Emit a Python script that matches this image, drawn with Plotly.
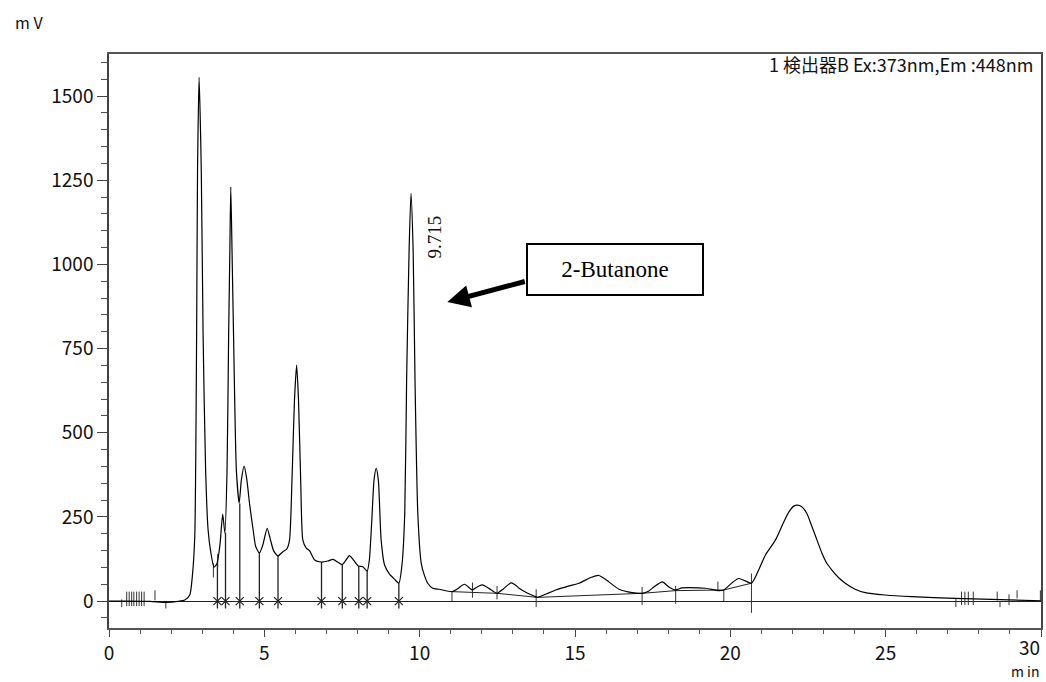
import plotly.graph_objects as go

# ---- chromatogram trace (retention time in min, signal in mV) ----
time_min = [0.00, 0.51, 1.32, 1.85, 2.22, 2.44, 2.60, 2.68, 2.76, 2.82, 2.85, 2.90, 2.97, 3.03,
            3.11, 3.19, 3.28, 3.38, 3.47, 3.57, 3.66, 3.73, 3.80, 3.85, 3.89, 3.92, 3.96, 4.01,
            4.10, 4.19, 4.26, 4.35, 4.43, 4.53, 4.64, 4.72, 4.84, 4.95, 5.09, 5.20, 5.30, 5.44,
            5.59, 5.72, 5.81, 5.89, 5.97, 6.04, 6.10, 6.17, 6.24, 6.35, 6.46, 6.62, 6.83, 7.04,
            7.21, 7.36, 7.50, 7.63, 7.74, 7.87, 8.03, 8.17, 8.31, 8.38, 8.46, 8.53, 8.60, 8.67,
            8.76, 8.87, 9.03, 9.19, 9.33, 9.43, 9.52, 9.58, 9.66, 9.72, 9.79, 9.85, 9.94, 10.05,
            10.15, 10.26, 10.42, 10.63, 11.04, 11.21, 11.44, 11.70, 11.85, 12.02, 12.24, 12.49,
            12.69, 12.94, 13.08, 13.20, 13.46, 13.68, 13.79, 14.07, 14.38, 14.81, 15.13, 15.51,
            15.77, 15.93, 16.09, 16.42, 16.84, 17.16, 17.38, 17.54, 17.81, 18.02, 18.24, 18.44,
            18.66, 19.20, 19.63, 19.79, 20.05, 20.27, 20.48, 20.68, 20.91, 21.13, 21.45, 21.72,
            21.88, 22.04, 22.17, 22.29, 22.46, 22.62, 22.79, 22.95, 23.10, 23.27, 23.48, 23.70,
            24.00, 24.34, 24.98, 25.84, 27.23, 28.41, 30.00]
signal_mv = [0, 0, -1, -4, -1, 3, 18, 71, 190, 784, 1280, 1556, 1280, 784,
             389, 211, 143, 101, 110, 166, 258, 202, 389, 784, 1042, 1230, 1042, 784,
             389, 291, 359, 401, 365, 285, 211, 163, 143, 166, 216, 181, 149, 134,
             146, 154, 181, 359, 597, 701, 597, 359, 181, 157, 149, 122, 116, 119,
             124, 116, 108, 122, 135, 122, 104, 102, 89, 122, 241, 359, 394, 359,
             181, 107, 80, 65, 53, 107, 261, 656, 1042, 1211, 1042, 656, 261, 113,
             77, 53, 38, 35, 28, 36, 50, 33, 42, 48, 37, 23,
             36, 54, 48, 38, 24, 15, 11, 21, 33, 45, 53, 70,
             76, 68, 57, 35, 25, 23, 30, 42, 57, 42, 33, 39,
             40, 38, 31, 33, 54, 67, 60, 53, 92, 137, 181, 235,
             264, 282, 285, 281, 261, 223, 181, 142, 113, 92, 70, 53,
             36, 25, 18, 13, 8, 5, 1]

# ---- peak integration drop lines (time, lower mV, upper mV) ----
drop_t = [3.49, 3.75, 4.21, 4.84, 5.44, 6.84, 7.51, 8.04, 8.31, 9.33]
drop_lo = [-22, -22, -22, -22, -22, -22, -22, -22, -22, -22]
drop_hi = [110, 203, 290, 143, 134, 116, 108, 104, 89, 53]

# ---- other integration markers (short vertical ticks) ----
mark_t = [0.41, 0.57, 0.65, 0.73, 0.80, 0.89, 0.97, 1.05, 1.13, 1.48, 1.83,
          3.36, 3.50, 11.04, 11.70, 12.49, 13.75, 17.16, 18.24, 19.60, 19.79, 20.68,
          27.26, 27.44, 27.55, 27.66, 27.82, 28.59, 28.68, 28.97, 29.23, 29.98]
mark_lo = [-18, -15, -15, -15, -15, -15, -15, -15, -15, 2, -22,
           70, 100, 0, 10, 5, -18, -12, -8, 32, 0, -35,
           -18, -12, -12, -12, -12, 2, -18, -12, 8, 2]
mark_hi = [5, 28, 28, 28, 28, 28, 28, 28, 28, 32, 0,
           112, 140, 28, 55, 45, 35, 42, 45, 58, 33, 82,
           6, 28, 28, 28, 28, 28, 0, 20, 32, 32]

# ---- integration baseline between valleys ----
base_t = [11.04, 12.49, 13.79, 17.16, 18.24, 19.79, 20.68]
base_mv = [28, 23, 11, 23, 31, 33, 53]

y_ticks = [0, 250, 500, 750, 1000, 1250, 1500]
x_ticks = [0, 5, 10, 15, 20, 25, 30]
x_tick_text = ["0", "5", "10", "15", "20", "25", ""]
x_last_label = "30"

peak_label_t = 9.715
peak_label_text = "9.715"
compound_name = "2-Butanone"
detector_text = "1 検出器B Ex:373nm,Em :448nm"

def segments(ts, los, his):
    xs, ys = [], []
    for t, lo, hi in zip(ts, los, his):
        xs += [t, t, None]
        ys += [lo, hi, None]
    return xs, ys

fig = go.Figure()

dx, dy = segments(drop_t, drop_lo, drop_hi)
fig.add_trace(go.Scatter(x=dx, y=dy, mode="lines",
                         line=dict(color="#222222", width=1.3), hoverinfo="skip"))
mx, my = segments(mark_t, mark_lo, mark_hi)
fig.add_trace(go.Scatter(x=mx, y=my, mode="lines",
                         line=dict(color="#333333", width=1), hoverinfo="skip"))
fig.add_trace(go.Scatter(x=drop_t, y=[0] * len(drop_t), mode="markers",
                         marker=dict(symbol="x-thin-open", size=8, color="#222222",
                                     line=dict(color="#222222", width=1.2)),
                         hoverinfo="skip"))
fig.add_trace(go.Scatter(x=base_t, y=base_mv, mode="lines",
                         line=dict(color="#222222", width=1), hoverinfo="skip"))
fig.add_trace(go.Scatter(x=time_min, y=signal_mv, mode="lines",
                         line=dict(color="#000000", width=1.2, shape="spline",
                                   smoothing=0.6),
                         hoverinfo="skip"))

tick_font = dict(family="Noto Sans CJK JP", size=19, color="#111111")

fig.update_layout(
    width=1046, height=682,
    margin=dict(l=109, r=3, t=54, b=54),
    paper_bgcolor="white", plot_bgcolor="white",
    showlegend=False,
    font=tick_font,
    xaxis=dict(range=[0, 30], tickvals=x_ticks, ticktext=x_tick_text, ticks="outside",
               ticklen=7, tickcolor="#444444", showline=True, linecolor="#555555",
               linewidth=1.5, mirror=True, showgrid=False, zeroline=False,
               minor=dict(dtick=1, ticks="outside", ticklen=4, tickcolor="#555555"),
               tickfont=tick_font),
    yaxis=dict(range=[-80, 1625], tickvals=y_ticks, ticks="outside", ticklen=10,
               tickcolor="#444444", showline=True, linecolor="#444444", linewidth=1.5,
               mirror=True, showgrid=False, zeroline=True, zerolinecolor="#222222",
               zerolinewidth=1,
               minor=dict(dtick=50, ticks="outside", ticklen=6, tickcolor="#555555"),
               tickfont=tick_font),
)

# last x tick label, right-aligned at the axis end
fig.add_annotation(text=x_last_label, x=30, xref="x", yref="paper", y=-0.032,
                   xanchor="right", yanchor="middle", showarrow=False, borderpad=0,
                   font=tick_font)

# axis unit labels and detector text
fig.add_annotation(text="m V", xref="paper", yref="paper", x=-0.103, y=1.056,
                   xanchor="left", yanchor="middle", showarrow=False,
                   font=dict(family="Noto Sans CJK JP", size=16, color="#111111"))
fig.add_annotation(text="m in", xref="paper", yref="paper", x=0.9995, y=-0.075,
                   xanchor="right", yanchor="middle", showarrow=False, borderpad=0,
                   font=dict(family="Noto Sans CJK JP", size=14, color="#111111"))
fig.add_annotation(text=detector_text, xref="paper", yref="paper", x=0.9935, y=0.983,
                   xanchor="right", yanchor="middle", showarrow=False,
                   font=dict(family="Noto Sans CJK JP", size=18, color="#111111"))

# retention time label
fig.add_annotation(text=peak_label_text, x=peak_label_t + 0.76, y=1081, textangle=-90,
                   showarrow=False,
                   font=dict(family="Liberation Serif", size=19, color="#111111"))

# compound box and arrow
fig.add_annotation(text=compound_name, x=16.29, y=985, showarrow=False,
                   width=172, height=47, bordercolor="#000000", borderwidth=2,
                   borderpad=1, bgcolor="white",
                   font=dict(family="Liberation Serif", size=23, color="#000000"))
fig.add_annotation(x=10.89, y=888, ax=79, ay=-21, axref="pixel", ayref="pixel",
                   text="", showarrow=True, arrowhead=2, arrowsize=0.9,
                   arrowwidth=5, arrowcolor="#000000", standoff=0)

fig.write_html("out.html")
